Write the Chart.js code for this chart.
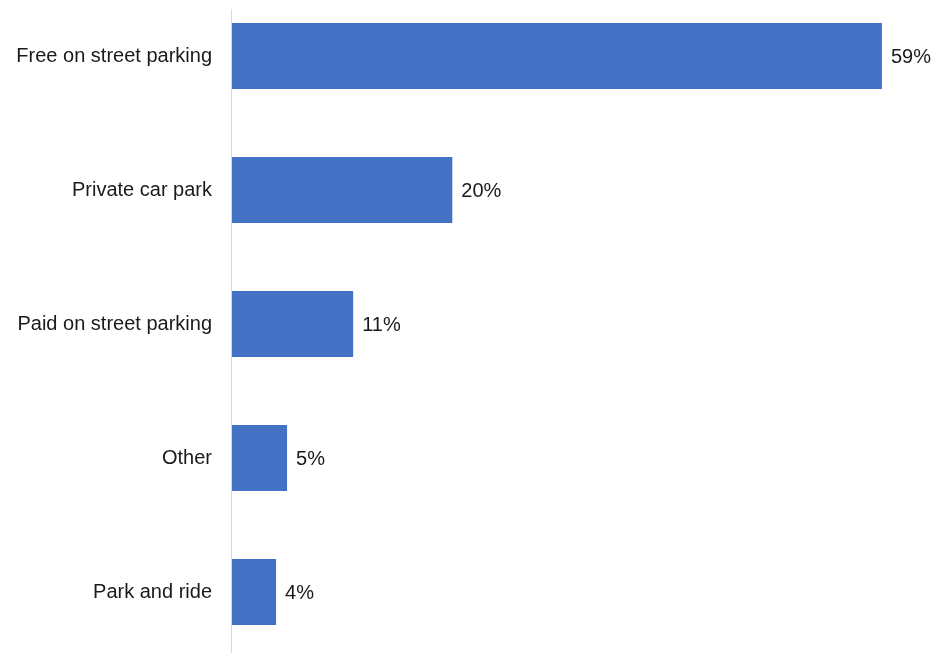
<!DOCTYPE html>
<html>
<head>
<meta charset="utf-8">
<script src="https://cdn.jsdelivr.net/npm/chart.js@4/dist/chart.umd.min.js"></script>
<style>
    html, body { margin: 0; padding: 0; background: #ffffff; }
    #wrap { width: 934px; height: 653px; position: relative; }
</style>
</head>
<body>
<div id="wrap"><canvas id="chart"></canvas></div>
<script>
const categories = ["Free on street parking", "Private car park", "Paid on street parking", "Other", "Park and ride"];
const shares = [59, 20, 11, 5, 4];

const FONT = '"Liberation Sans", Arial, Helvetica, sans-serif';
const TEXT = '#1a1a1a';

// value labels to the right of each bar
const valueLabels = {
    id: 'valueLabels',
    afterDatasetsDraw(chart) {
        const ctx = chart.ctx;
        const meta = chart.getDatasetMeta(0);
        ctx.save();
        ctx.font = '20px ' + FONT;
        ctx.fillStyle = TEXT;
        ctx.textAlign = 'left';
        ctx.textBaseline = 'middle';
        meta.data.forEach((bar, i) => {
            ctx.fillText(shares[i] + '%', bar.x + 9, bar.y + 1);
        });
        ctx.restore();
    }
};

// thin vertical axis line at zero, running the full height
const zeroLine = {
    id: 'zeroLine',
    beforeDatasetsDraw(chart) {
        const ctx = chart.ctx;
        const x = chart.scales.x.getPixelForValue(0) - 0.5;
        ctx.save();
        ctx.strokeStyle = '#d9d9d9';
        ctx.lineWidth = 1;
        ctx.beginPath();
        ctx.moveTo(x, 9);
        ctx.lineTo(x, chart.height);
        ctx.stroke();
        ctx.restore();
    }
};

new Chart(document.getElementById('chart'), {
    type: 'bar',
    data: {
        labels: categories,
        datasets: [{
            data: shares,
            backgroundColor: '#4472c4',
            borderWidth: 0,
            clip: false,
            categoryPercentage: 1,
            barPercentage: 0.4925
        }]
    },
    options: {
        indexAxis: 'y',
        responsive: true,
        maintainAspectRatio: false,
        animation: false,
        layout: { padding: { top: 56, bottom: 61, left: 0, right: 19 } },
        scales: {
            x: {
                display: false,
                min: 0,
                max: 62
            },
            y: {
                offset: false,
                border: { display: false },
                grid: { display: false, drawTicks: false },
                ticks: {
                    padding: 20,
                    color: TEXT,
                    font: { family: FONT, size: 20 }
                },
                afterFit(scale) { scale.width = 232; }
            }
        },
        plugins: {
            legend: { display: false },
            tooltip: { enabled: false }
        }
    },
    plugins: [zeroLine, valueLabels]
});
</script>
</body>
</html>
